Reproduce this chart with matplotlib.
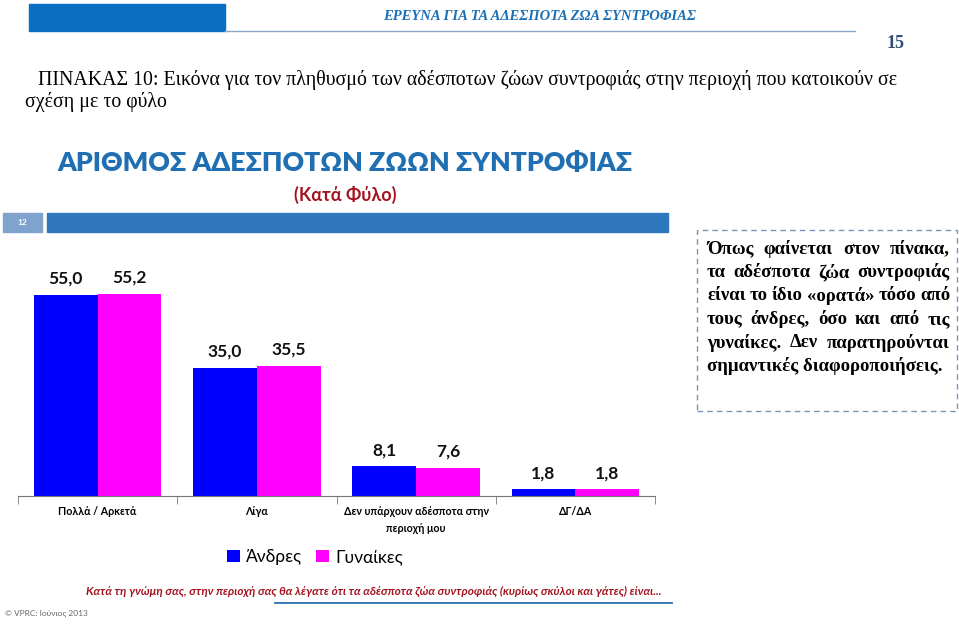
import matplotlib
matplotlib.use('Agg')
import matplotlib.pyplot as plt
from matplotlib.patches import Rectangle
from matplotlib.lines import Line2D

# data
categories = ['Πολλά / Αρκετά', 'Λίγα', 'Δεν υπάρχουν αδέσποτα στην\nπεριοχή μου', 'ΔΓ/ΔΑ']
men = [55.0, 35.0, 8.1, 1.8]
women = [55.2, 35.5, 7.6, 1.8]
series_names = ['Άνδρες', 'Γυναίκες']

note_lines = ['Όπως φαίνεται στον πίνακα,',
              'τα αδέσποτα ζώα συντροφιάς',
              'είναι το ίδιο «ορατά» τόσο από',
              'τους άνδρες, όσο και από τις',
              'γυναίκες. Δεν παρατηρούνται',
              'σημαντικές διαφοροποιήσεις.']

W, H = 959, 624
fig = plt.figure(figsize=(W / 100, H / 100), dpi=100)
fig.patch.set_facecolor('white')


def fx(x):
    return x / W


def fy(y):
    return 1 - y / H


def ftext(x, y, s, **kw):
    return fig.text(fx(x), fy(y), s, **kw)


# page header
fig.patches.append(Rectangle((fx(29), fy(31)), fx(196), 27 / H, transform=fig.transFigure,
                             color='#0A6FC2', zorder=1))
fig.lines.append(Line2D([fx(225), fx(855)], [fy(30.5), fy(30.5)], transform=fig.transFigure,
                        color='#8CA8C8', lw=1))
ftext(540, 17, 'ΕΡΕΥΝΑ ΓΙΑ ΤΑ ΑΔΕΣΠΟΤΑ ΖΩΑ ΣΥΝΤΡΟΦΙΑΣ', family='Liberation Serif',
      style='italic', weight='bold', fontsize=10.5, color='#1A6FB5', ha='center', va='center')
ftext(905, 43, '15', family='Liberation Serif', weight='bold', fontsize=13,
      color='#2E4E73', ha='right', va='center')

# table title
ftext(38, 80, 'ΠΙΝΑΚΑΣ 10: Εικόνα για τον πληθυσμό των αδέσποτων ζώων συντροφιάς στην περιοχή που κατοικούν σε',
      family='Liberation Serif', fontsize=14.3, color='black', ha='left', va='center')
ftext(25, 102, 'σχέση με το φύλο', family='Liberation Serif', fontsize=14.3,
      color='black', ha='left', va='center')

# chart title
ftext(345, 163, 'ΑΡΙΘΜΟΣ ΑΔΕΣΠΟΤΩΝ ΖΩΩΝ ΣΥΝΤΡΟΦΙΑΣ', family='Lato', weight='heavy',
      fontsize=19.2, color='#1F6FB2', ha='center', va='center')
ftext(345, 195, '(Κατά Φύλο)', family='Lato', weight='bold', fontsize=13,
      color='#A3121E', ha='center', va='center')

# slide bar
fig.patches.append(Rectangle((fx(3), fy(232)), fx(39), 19 / H, transform=fig.transFigure,
                             color='#7FA3CC', zorder=1))
fig.patches.append(Rectangle((fx(47), fy(232)), fx(621), 19 / H, transform=fig.transFigure,
                             color='#2F78BD', zorder=1))
ftext(22, 222.5, '12', family='Lato', weight='bold', fontsize=6, color='white',
      ha='center', va='center')

# bars
ax = fig.add_axes([fx(18), 128 / H, 637 / W, 219.3 / H])
x = list(range(len(categories)))
bw = 0.4
b1 = ax.bar([i - bw / 2 for i in x], men, bw, color='#0000FF', label=series_names[0])
b2 = ax.bar([i + bw / 2 for i in x], women, bw, color='#FF00FF', label=series_names[1])
for bars, vals in ((b1, men), (b2, women)):
    for r, v in zip(bars, vals):
        ax.annotate(f'{v:.1f}'.replace('.', ','), (r.get_x() + r.get_width() / 2, v),
                    xytext=(0, 6), textcoords='offset points', ha='center', va='bottom',
                    family='Lato', weight='bold', fontsize=12.5, color='#111111')

ax.set_xlim(-0.5, 3.5)
ax.set_ylim(0, 60)
ax.set_yticks([])
for s in ('top', 'right', 'left'):
    ax.spines[s].set_visible(False)
ax.spines['bottom'].set_color('#777777')
ax.set_xticks(x)
ax.set_xticklabels(categories, family='Lato', weight='bold', fontsize=7.7, linespacing=1.7)
ax.tick_params(axis='x', which='major', length=0, pad=7)
ax.set_xticks([-0.5, 0.5, 1.5, 2.5, 3.5], minor=True)
ax.tick_params(axis='x', which='minor', length=6, color='#777777')
ax.patch.set_alpha(0)

fig.legend(handles=[b1, b2], loc='center', bbox_to_anchor=(fx(315), fy(557)), ncol=2,
           frameon=False, prop={'family': 'Lato', 'size': 12.5}, handlelength=0.75,
           handleheight=0.75, handletextpad=0.35, columnspacing=0.8)

# footer
ftext(662, 591, 'Κατά τη γνώμη σας, στην περιοχή σας θα λέγατε ότι τα αδέσποτα ζώα συντροφιάς (κυρίως σκύλοι και γάτες) είναι...',
      family='Lato', style='italic', weight='bold', fontsize=8.5, color='#A3121E',
      ha='right', va='center')
fig.lines.append(Line2D([fx(275), fx(672)], [fy(603), fy(603)], transform=fig.transFigure,
                        color='#2F6FB0', lw=1.3))
ftext(5, 613, '© VPRC: Ιούνιος 2013', family='Lato', fontsize=6, color='#666666',
      ha='left', va='center')

# note box
fig.patches.append(Rectangle((fx(697), fy(411)), fx(260), 181 / H, transform=fig.transFigure,
                             fill=False, ec='#7D93B8', lw=1, ls=(0, (4, 3)), zorder=1))

renderer = fig.canvas.get_renderer()
left, right = 707, 950
y0, dy = 249, 23.4
font = dict(family='Liberation Serif', weight='bold', fontsize=13.5, color='black', va='center')
for k, line in enumerate(note_lines):
    y = y0 + k * dy
    if k == len(note_lines) - 1:
        ftext(left, y, line, ha='left', **font)
        continue
    words = line.split(' ')
    texts = [ftext(left, y, w, ha='left', **font) for w in words]
    widths = [t.get_window_extent(renderer).width for t in texts]
    gap = (right - left - sum(widths)) / max(len(words) - 1, 1)
    xpos = left
    for t, w in zip(texts, widths):
        t.set_x(fx(xpos))
        xpos += w + gap

fig.savefig('out.png', dpi=100, facecolor='white')
